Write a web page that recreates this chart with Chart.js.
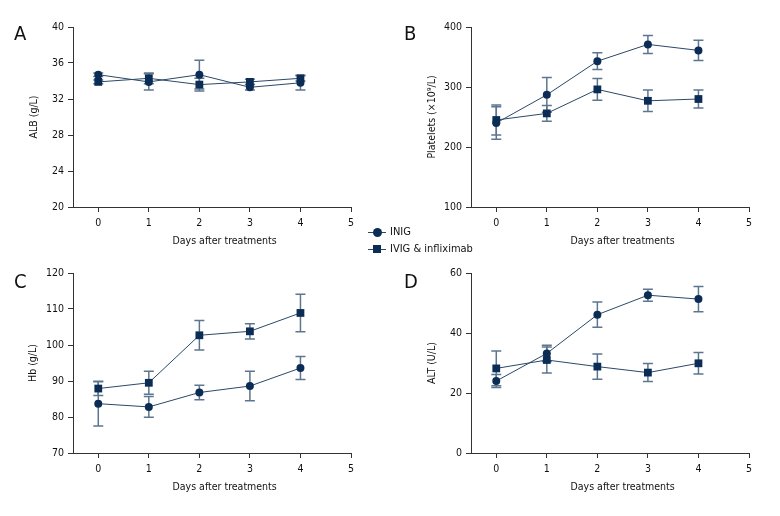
<!DOCTYPE html>
<html>
<head>
<meta charset="utf-8">
<script src="https://cdn.jsdelivr.net/npm/chart.js@4/dist/chart.umd.min.js"></script>
<style>
  body { margin: 0; background: #fff; }
  #wrap { position: relative; width: 780px; height: 516px; font-family: 'Liberation Sans Narrow', 'DejaVu Sans Condensed', sans-serif; color: #111; }
  canvas { position: absolute; }
  .letter { position: absolute; font-size: 20px; line-height: 20px; }
  .leg { position: absolute; font-size: 11px; line-height: 14px; left: 368px; }
  .leg .ln { position: absolute; left: 0; top: 7px; width: 18px; height: 1px; background: #2b4868; }
  .leg .mk { position: absolute; background: #0b2d55; }
  .leg span.t { position: absolute; left: 22px; top: 0; white-space: nowrap; }
</style>
</head>
<body>
<div id="wrap">
  <canvas id="cA" width="390" height="258" style="left:0;top:0"></canvas>
  <canvas id="cB" width="390" height="258" style="left:390px;top:0"></canvas>
  <canvas id="cC" width="390" height="258" style="left:0;top:258px"></canvas>
  <canvas id="cD" width="390" height="258" style="left:390px;top:258px"></canvas>
  <div class="letter" style="left:14px;top:23px">A</div>
  <div class="letter" style="left:404px;top:23px">B</div>
  <div class="letter" style="left:14px;top:271px">C</div>
  <div class="letter" style="left:404px;top:271px">D</div>
  <div class="leg" style="top:225px"><div class="ln"></div><div class="mk" style="left:5px;top:3px;width:9px;height:9px;border-radius:50%"></div><span class="t">INIG</span></div>
  <div class="leg" style="top:242px"><div class="ln"></div><div class="mk" style="left:5px;top:3px;width:8px;height:8px"></div><span class="t">IVIG &amp; infliximab</span></div>
</div>
<script>
// 数据
const days = [0, 1, 2, 3, 4];
const xTicks = [0, 1, 2, 3, 4, 5];
const seriesNames = ['INIG', 'IVIG & infliximab'];

const albInig = [34.7, 33.9, 34.7, 33.3, 33.8];
const albInigErr = [0.2, 0.9, 1.6, 0.3, 0.8];
const albIvig = [33.9, 34.3, 33.6, 33.9, 34.3];
const albIvigErr = [0.2, 0.6, 0.7, 0.3, 0.3];

const pltInig = [240, 287, 343, 371, 361];
const pltInigErr = [27, 29, 14, 15, 17];
const pltIvig = [245, 256, 296, 277, 280];
const pltIvigErr = [25, 13, 18, 18, 15];

const hbInig = [83.7, 82.8, 86.8, 88.6, 93.6];
const hbInigErr = [6.2, 2.9, 2.0, 4.1, 3.2];
const hbIvig = [87.9, 89.5, 102.7, 103.8, 108.9];
const hbIvigErr = [1.9, 3.2, 4.1, 2.1, 5.2];

const altInig = [24.0, 33.2, 46.1, 52.6, 51.3];
const altInigErr = [2.2, 2.7, 4.2, 2.0, 4.2];
const altIvig = [28.2, 31.0, 28.8, 26.8, 29.9];
const altIvigErr = [5.8, 4.3, 4.2, 3.0, 3.6];

const FONT = "'Liberation Sans Narrow', 'DejaVu Sans Condensed', sans-serif";
const FSIZE = 10.5;
const markColor = '#0b2d55';
const lineColor = '#2b4868';
const errColor = '#5d7690';
const axisColor = '#333';

// 误差棒插件
const errorBars = {
    id: 'errorBars',
    beforeDatasetsDraw(chart) {
        const { ctx, scales: { x, y } } = chart;
        ctx.save();
        ctx.strokeStyle = errColor;
        ctx.lineWidth = 1.5;
        chart.data.datasets.forEach(ds => {
            ds.data.forEach((p, i) => {
                const e = ds.errors[i];
                const px = x.getPixelForValue(p.x);
                const top = y.getPixelForValue(p.y + e);
                const bot = y.getPixelForValue(p.y - e);
                ctx.beginPath();
                ctx.moveTo(px, top); ctx.lineTo(px, bot);
                ctx.moveTo(px - 5, top); ctx.lineTo(px + 5, top);
                ctx.moveTo(px - 5, bot); ctx.lineTo(px + 5, bot);
                ctx.stroke();
            });
        });
        ctx.restore();
    }
};

// x轴标题（以0-5刻度居中）
const xTitle = {
    id: 'xTitle',
    afterDraw(chart) {
        const { ctx, scales: { x }, chartArea } = chart;
        ctx.save();
        ctx.font = FSIZE + 'px ' + FONT;
        ctx.fillStyle = '#111';
        ctx.textAlign = 'center';
        ctx.textBaseline = 'middle';
        ctx.fillText('Days after treatments', x.getPixelForValue(2.5), chartArea.bottom + 34);
        ctx.restore();
    }
};

function makeChart(id, opt) {
    const toPts = arr => days.map((d, i) => ({ x: d, y: arr[i] }));
    new Chart(document.getElementById(id), {
        type: 'line',
        data: {
            datasets: [{
                label: seriesNames[0],
                data: toPts(opt.a),
                errors: opt.aErr,
                borderColor: lineColor,
                borderWidth: 1,
                pointStyle: 'circle',
                pointRadius: 4,
                pointBackgroundColor: markColor,
                pointBorderColor: markColor,
                pointBorderWidth: 0
            }, {
                label: seriesNames[1],
                data: toPts(opt.b),
                errors: opt.bErr,
                borderColor: lineColor,
                borderWidth: 1,
                pointStyle: 'rect',
                pointRadius: 5.5,
                pointBackgroundColor: markColor,
                pointBorderColor: markColor,
                pointBorderWidth: 0
            }]
        },
        options: {
            responsive: false,
            animation: false,
            layout: { padding: { top: opt.padTop, right: opt.padRight, bottom: 0, left: 0 } },
            plugins: { legend: { display: false }, tooltip: { enabled: false } },
            scales: {
                x: {
                    type: 'linear',
                    min: -0.5,
                    max: 5,
                    afterBuildTicks: s => { s.ticks = xTicks.map(v => ({ value: v })); },
                    afterFit: s => { s.height = opt.xHeight; },
                    grid: { drawOnChartArea: false, drawTicks: true, tickLength: 5, color: axisColor },
                    border: { color: axisColor, width: 1 },
                    ticks: { color: '#111', font: { family: FONT, size: FSIZE }, padding: 5 }
                },
                y: {
                    min: opt.yMin,
                    max: opt.yMax,
                    afterFit: s => { s.width = opt.yWidth; },
                    grid: { drawOnChartArea: false, drawTicks: true, tickLength: 5, color: axisColor },
                    border: { color: axisColor, width: 1 },
                    ticks: { stepSize: opt.yStep, color: '#111', font: { family: FONT, size: FSIZE }, padding: 4 },
                    title: { display: true, text: opt.yTitle, color: '#111', font: { family: FONT, size: FSIZE }, padding: { top: opt.titlePad, bottom: 0 } }
                }
            }
        },
        plugins: [errorBars, xTitle]
    });
}

makeChart('cA', { a: albInig, aErr: albInigErr, b: albIvig, bErr: albIvigErr,
    yMin: 20, yMax: 40, yStep: 4, yTitle: 'ALB (g/L)',
    padTop: 27, padRight: 39, yWidth: 73, xHeight: 51, titlePad: 28 });
makeChart('cB', { a: pltInig, aErr: pltInigErr, b: pltIvig, bErr: pltIvigErr,
    yMin: 100, yMax: 400, yStep: 100, yTitle: 'Platelets (×10⁹/L)',
    padTop: 27, padRight: 31, yWidth: 81, xHeight: 51, titlePad: 36 });
makeChart('cC', { a: hbInig, aErr: hbInigErr, b: hbIvig, bErr: hbIvigErr,
    yMin: 70, yMax: 120, yStep: 10, yTitle: 'Hb (g/L)',
    padTop: 15, padRight: 39, yWidth: 73, xHeight: 63, titlePad: 27 });
makeChart('cD', { a: altInig, aErr: altInigErr, b: altIvig, bErr: altIvigErr,
    yMin: 0, yMax: 60, yStep: 20, yTitle: 'ALT (U/L)',
    padTop: 15, padRight: 31, yWidth: 81, xHeight: 63, titlePad: 36 });
</script>
</body>
</html>
